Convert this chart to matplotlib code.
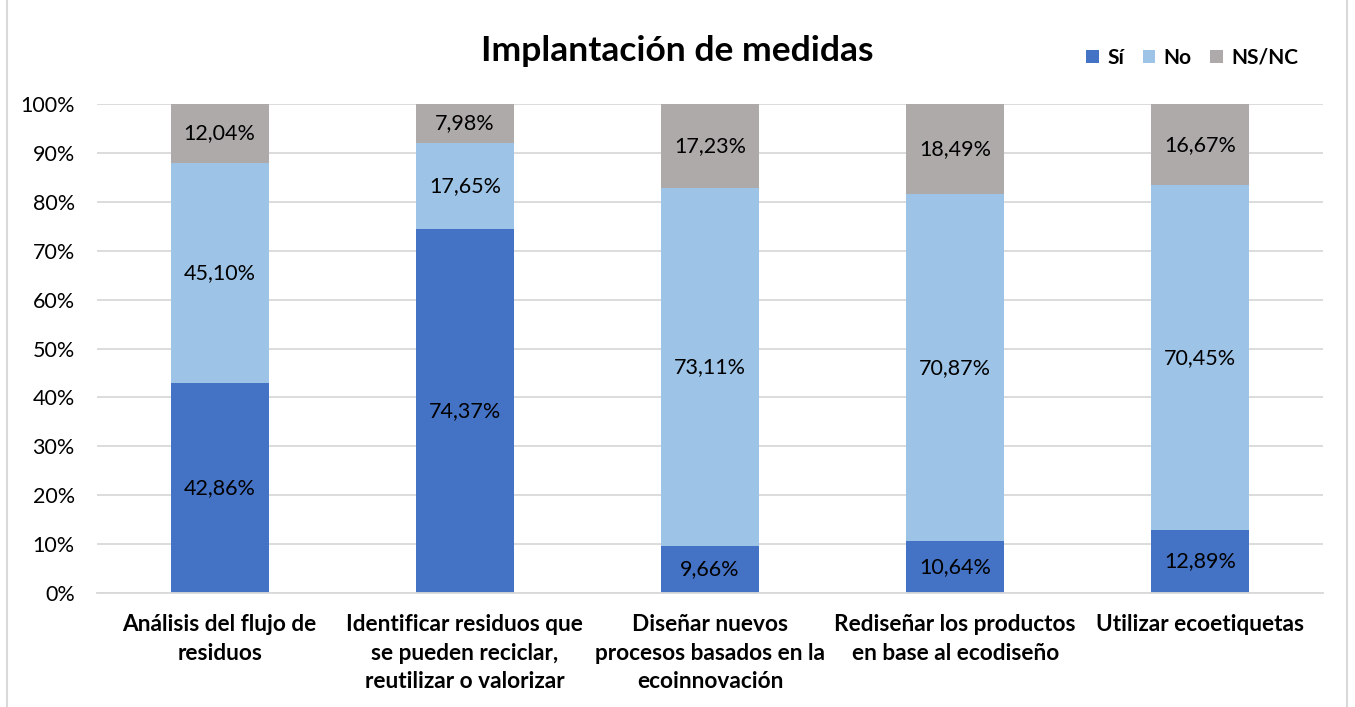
import matplotlib.pyplot as plt
import numpy as np
from matplotlib.patches import Rectangle

plt.rcParams['font.family'] = ['Lato', 'DejaVu Sans']

categorias = ['Análisis del flujo de\nresiduos',
              'Identificar residuos que\nse pueden reciclar,\nreutilizar o valorizar',
              'Diseñar nuevos\nprocesos basados en la\necoinnovación',
              'Rediseñar los productos\nen base al ecodiseño',
              'Utilizar ecoetiquetas']
si = [42.86, 74.37, 9.66, 10.64, 12.89]
no = [45.10, 17.65, 73.11, 70.87, 70.45]
nsnc = [12.04, 7.98, 17.23, 18.49, 16.67]

series = [('Sí', si, '#4472C4'), ('No', no, '#9DC3E6'), ('NS/NC', nsnc, '#AEAAAA')]

fig = plt.figure(figsize=(13.55, 7.07), dpi=100)
ax = fig.add_axes([0.0716, 0.1612, 0.9048, 0.6917])

x = np.arange(len(categorias))
bottom = np.zeros(len(categorias))
for nombre, vals, color in series:
    vals = np.array(vals)
    ax.bar(x, vals, 0.4, bottom=bottom, color=color, label=nombre, zorder=2)
    for xi, b, v in zip(x, bottom, vals):
        ax.text(xi, b + v / 2, f'{v:.2f}%'.replace('.', ','), ha='center', va='center',
                fontsize=15.5, color='#000000', zorder=3)
    bottom += vals

ax.set_xlim(-0.5, len(categorias) - 0.5)
ax.set_ylim(0, 100)
ax.set_yticks(np.arange(0, 101, 10))
ax.set_yticklabels([f'{t}%' for t in range(0, 101, 10)], fontsize=15.5)
ax.set_xticks(x)
ax.set_xticklabels(categorias, fontsize=16.3, fontweight='bold', linespacing=1.45)
ax.tick_params(axis='both', length=0)
ax.tick_params(axis='x', pad=15)
ax.tick_params(axis='y', pad=16)
ax.grid(axis='y', color='#D9D9D9', linewidth=1.3, zorder=0)
for s in ['top', 'right', 'left']:
    ax.spines[s].set_visible(False)
ax.spines['bottom'].set_color('#D9D9D9')
ax.spines['bottom'].set_linewidth(1.3)

fig.text(0.5, 0.928, 'Implantación de medidas', ha='center', va='center',
         fontsize=25.5, fontweight='bold')

leg = fig.legend(loc='center right', bbox_to_anchor=(0.972, 0.918), ncol=3, frameon=False,
                 prop={'weight': 'bold', 'size': 15}, handlelength=0.6, handleheight=0.6,
                 handletextpad=0.4, columnspacing=0.9)

fig.patches.append(Rectangle((0.005, -0.01), 0.989, 1.02, transform=fig.transFigure,
                             fill=False, edgecolor='#D9D9D9', linewidth=1.5))

fig.savefig('out.png', dpi=100)
